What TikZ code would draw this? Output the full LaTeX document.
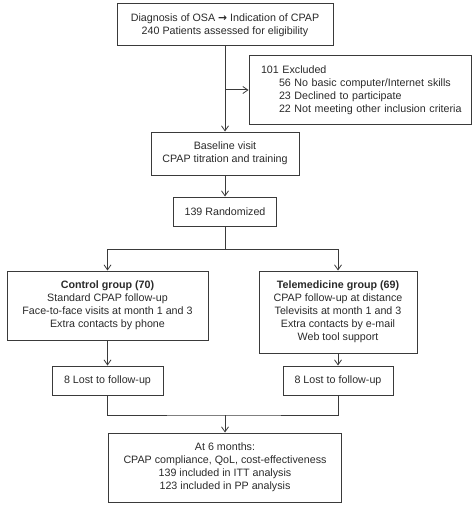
\documentclass[tikz,border=0pt]{standalone}
\usepackage{fontspec}
\setmainfont{Liberation Sans}
\newfontfamily\arrowfont{DejaVu Sans}
\usetikzlibrary{arrows.meta}
\definecolor{ln}{HTML}{3A3A3A}
\definecolor{tx}{HTML}{2A2A2A}
\tikzset{
  box/.style={draw=ln, line width=1pt, rectangle, align=center, inner sep=0pt,
    font=\fontsize{10.7}{13}\selectfont, text=tx},
  conn/.style={draw=ln, line width=1pt},
  arr/.style={conn, -{Straight Barb[length=5pt,width=7pt,line width=0.8pt]}}
}
\begin{document}
\begin{tikzpicture}[x=1pt,y=-1pt]
\useasboundingbox (0,0) rectangle (474,508);
\node[box, minimum width=216pt, minimum height=42pt] (diag) at (225,25)
  {Diagnosis of OSA {\arrowfont\bfseries →} Indication of CPAP\\240 Patients assessed for eligibility};
\node[box, minimum width=222pt, minimum height=68pt, text width=210pt, align=left, inner xsep=6pt] (excl) at (360,90)
  {\hspace*{6pt}101 Excluded\\
   \hspace*{24pt}56 No basic computer/Internet skills\\
   \hspace*{24pt}23 Declined to participate\\
   \hspace*{24pt}22 Not meeting other inclusion criteria};
\node[box, minimum width=148pt, minimum height=43pt] (base) at (225,153.5)
  {Baseline visit\\CPAP titration and training};
\node[box, minimum width=103pt, minimum height=29pt] (rand) at (225,211.5)
  {139 Randomized};
\node[box, minimum width=201pt, minimum height=69pt] (ctrl) at (107.5,305.5)
  {\textbf{Control group (70)}\\Standard CPAP follow-up\\Face-to-face visits at month 1 and 3\\Extra contacts by phone};
\node[box, minimum width=158pt, minimum height=82pt] (tele) at (338,312)
  {\textbf{Telemedicine group (69)}\\CPAP follow-up at distance\\Televisits at month 1 and 3\\Extra contacts by e-mail\\Web tool support};
\node[box, minimum width=111pt, minimum height=29pt] (lostl) at (107.5,380.5)
  {8 Lost to follow-up};
\node[box, minimum width=110pt, minimum height=29pt] (lostr) at (338,380.5)
  {8 Lost to follow-up};
\node[box, minimum width=233pt, minimum height=69pt] (final) at (225,467.5)
  {At 6 months:\\CPAP compliance, QoL, cost-effectiveness\\139 included in ITT analysis\\123 included in PP analysis};
\coordinate (brx) at (225,90);
\coordinate (split) at (225,249);
\coordinate (merge) at (225,415);
\draw[arr] (diag.south) -- (base.north);
\draw[arr] (brx) -- (excl.west |- brx);
\draw[arr] (base.south) -- (rand.north);
\draw[conn] (rand.south) -- (split);
\draw[arr] (split) -| (ctrl.north);
\draw[arr] (split) -| (tele.north);
\draw[arr] (ctrl.south) -- (lostl.north);
\draw[arr] (tele.south) -- (lostr.north);
\draw[conn] (lostl.south) |- (merge) -| (lostr.south);
\draw[arr] (merge) -- (final.north);
\end{tikzpicture}
\end{document}
